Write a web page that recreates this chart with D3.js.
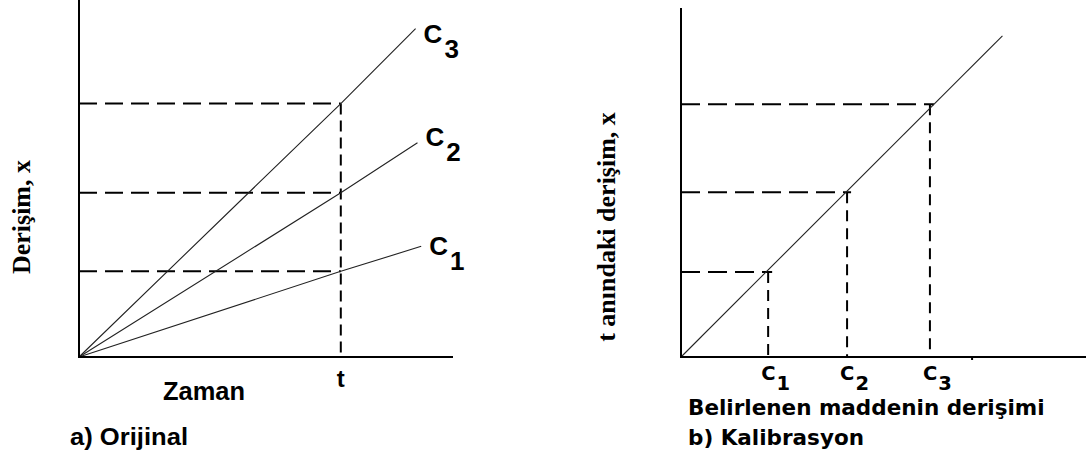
<!DOCTYPE html>
<html>
<head>
<meta charset="utf-8">
<script src="https://cdn.jsdelivr.net/npm/d3@7/dist/d3.min.js"></script>
<style>
  html, body { margin: 0; padding: 0; background: #fff; }
  svg { display: block; }
</style>
</head>
<body>
<svg id="chart" width="1086" height="461"></svg>
<script>
// ---------------- DATA ----------------
// Panel a) Orijinal : concentration vs time for three standards
const seriesNames = ["1", "2", "3"];            // subscripts of C1, C2, C3
const tValue = 7.0;                              // time "t"
const timePoints = [0, 7.0];                     // origin and t
const valuesAtT = [2.4, 4.6, 7.1];               // concentration x at time t for C1..C3
const endTimes = [9.15, 9.05, 9.0];              // where each drawn line stops
const endValues = [3.1, 6.0, 9.2];               // concentration at the line ends
const timeLabel = "Zaman";
const tLabel = "t";
const leftYLabel = "Derişim, x";
const leftCaption = "a) Orijinal";

// Panel b) Kalibrasyon : response at t vs concentration
const calibConc = [2.44, 4.65, 6.97];            // C1, C2, C3 on the x axis
const calibResp = [2.38, 4.62, 7.08];            // x at time t read on y axis
const calibLineX = [0, 9.0];
const calibLineY = [0, 9.0];
const extraTick = [8.15];
const rightXLabel = "Belirlenen maddenin derişimi";
const rightYLabel = "t anındaki derişim, x";
const rightCaption = "b) Kalibrasyon";

// ---------------- LAYOUT ----------------
const svg = d3.select("#chart");
const sansL = "'Liberation Sans', Arial, sans-serif";
const sansR = "'DejaVu Sans', sans-serif";
const serif = "'Liberation Serif', 'Times New Roman', serif";
const labelNudgeY = [9, 3, 14];

// Left panel scales
const xL = d3.scaleLinear().domain([0, 10]).range([79, 453]);
const yL = d3.scaleLinear().domain([0, 10]).range([357, 0]);

// Right panel scales
const xR = d3.scaleLinear().domain([0, 11.34]).range([681, 1086]);
const yR = d3.scaleLinear().domain([0, 9.78]).range([357, 8]);

const line = d3.line();

// ---- Left panel ----
const gL = svg.append("g");

// dashed guides
gL.selectAll("line.hd").data(valuesAtT).join("line")
  .attr("x1", xL(0)).attr("x2", xL(tValue))
  .attr("y1", d => yL(d)).attr("y2", d => yL(d))
  .attr("stroke", "#000").attr("stroke-width", 2)
  .attr("stroke-dasharray", "18,8");
gL.append("line")
  .attr("x1", xL(tValue)).attr("x2", xL(tValue))
  .attr("y1", yL(d3.max(valuesAtT))).attr("y2", yL(0))
  .attr("stroke", "#000").attr("stroke-width", 2)
  .attr("stroke-dasharray", "11,6");

// series lines
seriesNames.forEach((s, i) => {
  const pts = [[timePoints[0], 0], [timePoints[1], valuesAtT[i]], [endTimes[i], endValues[i]]];
  gL.append("path")
    .attr("d", line(pts.map(p => [xL(p[0]), yL(p[1])])))
    .attr("fill", "none").attr("stroke", "#222").attr("stroke-width", 1.1);
  const t = gL.append("text")
    .attr("x", xL(endTimes[i]) + 8)
    .attr("y", yL(endValues[i]) + labelNudgeY[i])
    .attr("font-family", sansL).attr("font-weight", "bold").attr("font-size", 26)
    .attr("fill", "#000");
  t.append("tspan").text("C");
  t.append("tspan").attr("dx", 2).attr("dy", 15).text(s);
});

// axes
gL.append("line").attr("x1", xL(0)).attr("x2", xL(0)).attr("y1", yL(10)).attr("y2", yL(0))
  .attr("stroke", "#000").attr("stroke-width", 2);
gL.append("line").attr("x1", xL(0) - 1).attr("x2", xL(10)).attr("y1", yL(0)).attr("y2", yL(0))
  .attr("stroke", "#000").attr("stroke-width", 2);

// texts
gL.append("text").attr("x", xL(tValue)).attr("y", 387).attr("text-anchor", "middle")
  .attr("font-family", sansL).attr("font-weight", "bold").attr("font-size", 24).text(tLabel);
gL.append("text").attr("x", 163).attr("y", 400)
  .attr("font-family", sansL).attr("font-weight", "bold").attr("font-size", 25.5)
  .attr("textLength", 82).attr("lengthAdjust", "spacingAndGlyphs").text(timeLabel);
gL.append("text").attr("x", 70).attr("y", 445)
  .attr("font-family", sansL).attr("font-weight", "bold").attr("font-size", 24.5)
  .attr("textLength", 118).attr("lengthAdjust", "spacingAndGlyphs").text(leftCaption);
gL.append("text").attr("transform", "translate(30,217) rotate(-90)").attr("text-anchor", "middle")
  .attr("font-family", serif).attr("font-weight", "bold").attr("font-size", 26).text(leftYLabel);

// ---- Right panel ----
const gR = svg.append("g");

gR.selectAll("line.hd").data(calibResp).join("line")
  .attr("x1", xR(0)).attr("x2", (d, i) => xR(calibConc[i]) + 4)
  .attr("y1", d => yR(d)).attr("y2", d => yR(d))
  .attr("stroke", "#000").attr("stroke-width", 2)
  .attr("stroke-dasharray", "19,8");
gR.selectAll("line.vd").data(calibConc).join("line")
  .attr("x1", d => xR(d)).attr("x2", d => xR(d))
  .attr("y1", (d, i) => yR(calibResp[i])).attr("y2", yR(0))
  .attr("stroke", "#000").attr("stroke-width", 2)
  .attr("stroke-dasharray", "11,7");

gR.append("path")
  .attr("d", line(calibLineX.map((x, i) => [xR(x), yR(calibLineY[i])])))
  .attr("fill", "none").attr("stroke", "#222").attr("stroke-width", 1.1);

gR.append("line").attr("x1", xR(0)).attr("x2", xR(0)).attr("y1", yR(9.78)).attr("y2", yR(0))
  .attr("stroke", "#000").attr("stroke-width", 2);
gR.append("line").attr("x1", xR(0) - 1).attr("x2", xR(11.34)).attr("y1", yR(0)).attr("y2", yR(0))
  .attr("stroke", "#000").attr("stroke-width", 2);
gR.selectAll("line.et").data(extraTick).join("line")
  .attr("x1", d => xR(d)).attr("x2", d => xR(d)).attr("y1", yR(0)).attr("y2", yR(0) + 3)
  .attr("stroke", "#000").attr("stroke-width", 2);

// C tick labels
calibConc.forEach((c, i) => {
  const t = gR.append("text")
    .attr("x", xR(c) - 7).attr("y", 380)
    .attr("font-family", sansR).attr("font-weight", "bold").attr("font-size", 19.5).attr("fill", "#000");
  t.append("tspan").text("C");
  t.append("tspan").attr("dx", 1).attr("dy", 10).text(seriesNames[i]);
});

gR.append("text").attr("x", 688).attr("y", 415)
  .attr("font-family", sansR).attr("font-weight", "bold").attr("font-size", 21.5).text(rightXLabel);
gR.append("text").attr("x", 688).attr("y", 445)
  .attr("font-family", sansR).attr("font-weight", "bold").attr("font-size", 21.5).text(rightCaption);
gR.append("text").attr("transform", "translate(615,227) rotate(-90)").attr("text-anchor", "middle")
  .attr("font-family", serif).attr("font-weight", "bold").attr("font-size", 26).text(rightYLabel);
</script>
</body>
</html>
